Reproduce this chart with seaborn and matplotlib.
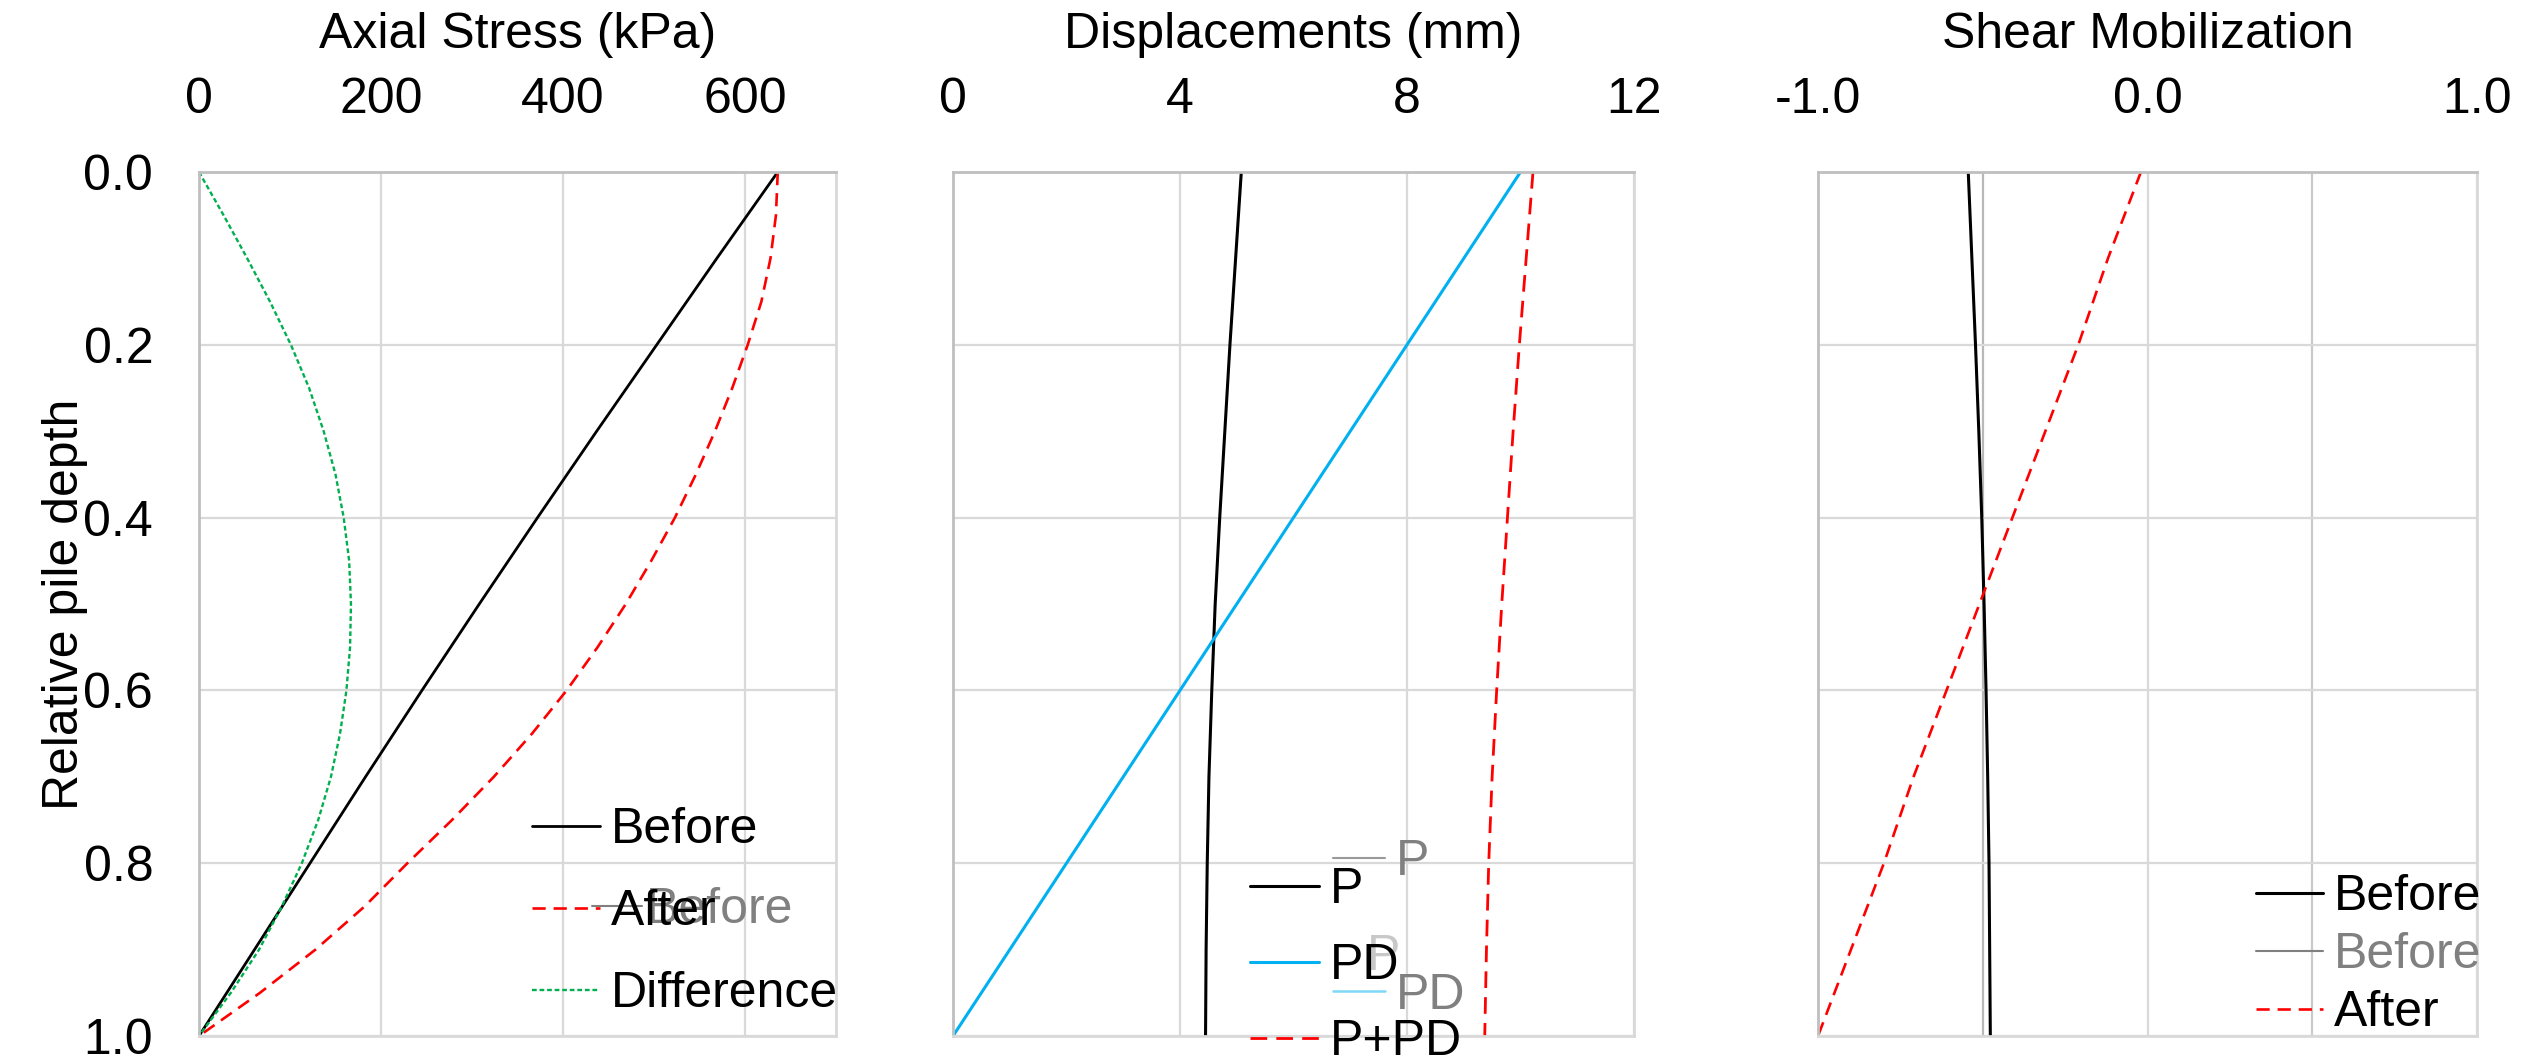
import numpy as np
import pandas as pd
import matplotlib
matplotlib.use("Agg")
import matplotlib.pyplot as plt
import seaborn as sns
from matplotlib.lines import Line2D

# ---------------- data ----------------
depth_fine = [0.00, 0.05, 0.10, 0.15, 0.20, 0.25, 0.30, 0.35, 0.40, 0.45, 0.50,
              0.55, 0.60, 0.65, 0.70, 0.75, 0.80, 0.85, 0.90, 0.95, 1.00]
depth = [0.0, 0.1, 0.2, 0.3, 0.4, 0.5, 0.6, 0.7, 0.8, 0.9, 1.0]

# Axial stress (kPa)
stress_before = [636, 569, 503, 437, 372, 308, 245, 183, 122, 61, 0]
stress_after = [636, 634, 628, 618, 603, 586, 567, 546, 523, 497, 469,
                438, 404, 366, 324, 278, 229, 182, 128, 67, 0]
stress_diff = [0, 27, 53, 78, 101, 121, 137, 150, 159, 165, 167,
               166, 162, 155, 145, 131, 113, 91, 66, 35, 0]

# Displacements (mm)
disp_p = [5.08, 4.98, 4.88, 4.79, 4.70, 4.62, 4.56, 4.51, 4.48, 4.46, 4.45]
disp_pd = [10.0, 9.0, 8.0, 7.0, 6.0, 5.0, 4.0, 3.0, 2.0, 1.0, 0.0]
disp_ppd = [10.22, 10.10, 9.98, 9.87, 9.77, 9.67, 9.58, 9.50, 9.44, 9.40, 9.37]

# Shear mobilization
shear_before = [-0.544, -0.533, -0.522, -0.512, -0.503, -0.496, -0.490, -0.485,
                -0.481, -0.479, -0.477]
shear_after = [-0.02, -0.12, -0.21, -0.31, -0.41, -0.51, -0.61, -0.71, -0.80,
               -0.90, -1.00]

titles = ["Axial Stress (kPa)", "Displacements (mm)", "Shear Mobilization"]
ylabel = "Relative pile depth"
yticks = [0.0, 0.2, 0.4, 0.6, 0.8, 1.0]
ytick_labels = ["0.0", "0.2", "0.4", "0.6", "0.8", "1.0"]
xticks_stress = [0, 200, 400, 600]
xticks_disp = [0, 4, 8, 12]
xticks_shear = [-1.0, -0.5, 0.0, 0.5, 1.0]
xtick_labels_shear = ["-1.0", "", "0.0", "", "1.0"]

# ---------------- style ----------------
sns.set_theme(style="white")
plt.rcParams["font.family"] = ["Liberation Sans", "DejaVu Sans"]
plt.rcParams["text.color"] = "black"
plt.rcParams["axes.labelcolor"] = "black"
plt.rcParams["xtick.color"] = "black"
plt.rcParams["ytick.color"] = "black"
FS = 36
BLACK = "#000000"
RED = "#ff0000"
GREEN = "#00b050"
BLUE = "#00b0f0"
GRID = "#d9d9d9"
AXLINE = "#bfbfbf"
GHOST = "#808080"

W, H = 2534, 1057
fig = plt.figure(figsize=(W / 100, H / 100), dpi=100)
fig.patch.set_facecolor("white")

top_px, bot_px = 172, 1036
def add_ax(l, r):
    return fig.add_axes([l / W, (H - bot_px) / H, (r - l) / W, (bot_px - top_px) / H])

ax1 = add_ax(199, 836)
ax2 = add_ax(953, 1634)
ax3 = add_ax(1818, 2477)

def style_axis(ax, title, show_y):
    ax.set_ylim(1.0, 0.0)
    ax.set_yticks(yticks)
    ax.xaxis.tick_top()
    ax.xaxis.set_label_position("top")
    ax.set_xlabel(title, fontsize=FS, labelpad=21, color=BLACK)
    ax.tick_params(axis="both", length=0, labelsize=FS, colors=BLACK,
                   labelcolor=BLACK)
    ax.tick_params(axis="x", pad=35)
    ax.tick_params(axis="y", pad=33)
    if show_y:
        ax.set_yticklabels(ytick_labels)
        ax.set_ylabel(ylabel, fontsize=FS, labelpad=-3, color=BLACK)
    else:
        ax.set_yticklabels([])
        ax.set_ylabel("")
    ax.grid(True, color=GRID, linewidth=1.6)
    ax.set_axisbelow(True)
    for side, sp in ax.spines.items():
        sp.set_visible(True)
        sp.set_linewidth(2.0)
        sp.set_color(AXLINE if side in ("left", "top") else GRID)

# ---------------- panel 1: axial stress ----------------
sns.lineplot(x=stress_before, y=depth, sort=False, estimator=None, ax=ax1,
             color=BLACK, linewidth=2.0, label="Before")
sns.lineplot(x=stress_after, y=depth_fine, sort=False, estimator=None, ax=ax1,
             color=RED, linewidth=1.9, linestyle=(0, (5, 3)), label="After")
sns.lineplot(x=stress_diff, y=depth_fine, sort=False, estimator=None, ax=ax1,
             color=GREEN, linewidth=1.7, linestyle=(0, (2.0, 1.2)), label="Difference")
ax1.set_xlim(0, 700)
ax1.set_xticks(xticks_stress)
ax1.set_xticklabels([str(v) for v in xticks_stress])
style_axis(ax1, titles[0], True)

# ---------------- panel 2: displacements ----------------
sns.lineplot(x=disp_p, y=depth, sort=False, estimator=None, ax=ax2,
             color=BLACK, linewidth=2.2, label="P")
sns.lineplot(x=disp_pd, y=depth, sort=False, estimator=None, ax=ax2,
             color=BLUE, linewidth=2.2, label="PD")
sns.lineplot(x=disp_ppd, y=depth, sort=False, estimator=None, ax=ax2,
             color=RED, linewidth=2.0, linestyle=(0, (6, 3.3)), label="P+PD")
ax2.set_xlim(0, 12)
ax2.set_xticks(xticks_disp)
ax2.set_xticklabels([str(v) for v in xticks_disp])
style_axis(ax2, titles[1], False)

# ---------------- panel 3: shear mobilization ----------------
sns.lineplot(x=shear_before, y=depth, sort=False, estimator=None, ax=ax3,
             color=BLACK, linewidth=2.2, label="Before")
sns.lineplot(x=shear_after, y=depth, sort=False, estimator=None, ax=ax3,
             color=RED, linewidth=1.9, linestyle=(0, (5, 3)), label="After")
ax3.set_xlim(-1.0, 1.0)
ax3.set_xticks(xticks_shear)
ax3.set_xticklabels(xtick_labels_shear)
style_axis(ax3, titles[2], False)
ax3.get_xgridlines()[1].set_color("#b8b8b8")
ax3.get_xgridlines()[3].set_color("#cacaca")

# ---------------- legends ----------------
def frac(ax, px, py):
    bb = ax.get_position()
    return ((px / W - bb.x0) / bb.width, ((H - py) / H - bb.y0) / bb.height)

base = dict(frameon=False, fontsize=FS, borderpad=0, borderaxespad=0,
            loc="center left")

# panel 1
l1 = ax1.get_lines()
ghost1 = ax1.legend([Line2D([], [], color=GHOST, lw=1.5)], ["Before"],
                    bbox_to_anchor=frac(ax1, 592, 910), handlelength=1.0,
                    handletextpad=0.08, labelcolor=GHOST, **base)
ax1.add_artist(ghost1)
ax1.legend(l1[:3], ["Before", "After", "Difference"], bbox_to_anchor=frac(ax1, 532, 912),
           handlelength=1.35, handletextpad=0.22, labelspacing=0.72,
           labelcolor=BLACK, **base)

# panel 2
l2 = ax2.get_lines()
ghost2 = ax2.legend([Line2D([], [], color="#999999", lw=1.5),
                     Line2D([], [], color="#7fd8f8", lw=1.8)], ["P", "PD"],
                    bbox_to_anchor=frac(ax2, 1333, 929), handlelength=1.04,
                    handletextpad=0.22, labelspacing=1.75, labelcolor=GHOST, **base)
ax2.add_artist(ghost2)
ax2.text(*frac(ax2, 1367, 957), "P", transform=ax2.transAxes, fontsize=FS,
         color="#c8c8c8", va="center", ha="left")
ax2.legend(l2[:3], ["P", "PD", "P+PD"], bbox_to_anchor=frac(ax2, 1250, 966),
           handlelength=1.38, handletextpad=0.22, labelspacing=0.6,
           labelcolor=BLACK, **base)

# panel 3
l3 = ax3.get_lines()
leg3 = ax3.legend([l3[0], Line2D([], [], color=GHOST, lw=1.5), l3[1]],
                  ["Before", "Before", "After"], bbox_to_anchor=frac(ax3, 2256, 955),
                  handlelength=1.34, handletextpad=0.22, labelspacing=0.24,
                  labelcolor=BLACK, **base)
leg3.get_texts()[1].set_color(GHOST)

fig.savefig("out.png", dpi=100, facecolor="white")
